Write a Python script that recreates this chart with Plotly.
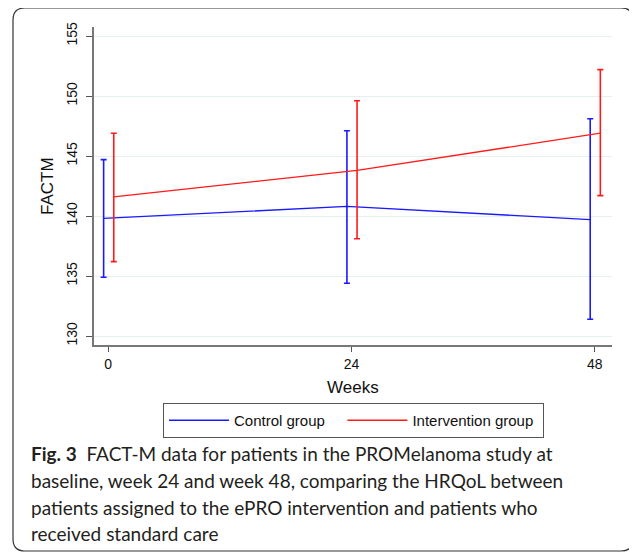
import plotly.graph_objects as go

# ---- data ----
weeks = [0, 24, 48]
week_labels = ["0", "24", "48"]
y_ticks = [130, 135, 140, 145, 150, 155]
series_names = ["Control group", "Intervention group"]

control_mean = [139.8, 140.8, 139.7]
control_upper = [144.7, 147.1, 148.1]
control_lower = [134.9, 134.4, 131.4]

intervention_mean = [141.6, 143.8, 146.9]
intervention_upper = [146.9, 149.6, 152.2]
intervention_lower = [136.2, 138.1, 141.7]

caption_lines = [
    "<b>Fig. 3</b>  FACT-M data for patients in the PROMelanoma study at",
    "baseline, week 24 and week 48, comparing the HRQoL between",
    "patients assigned to the ePRO intervention and patients who",
    "received standard care",
]

# ---- layout geometry (pixels in the page; the page body adds an 8px margin) ----
OFF = 8
W, H = 637 - OFF, 553 - OFF
PL, PR, PT, PB = 94, 612, 27, 345  # plot area in page pixels


def fx(px):
    return (px - PL) / (PR - PL)


def fy(py):
    return (PB - py) / (PB - PT)


BLUE = "#1a1aff"
RED = "#ff1a1a"
AXIS_FONT = "Liberation Sans, Arial, sans-serif"
CAP_FONT = "Lato, Open Sans, sans-serif"
NB = "\u00a0"

fig = go.Figure()


def add_series(name, mean, upper, lower, color, offset, pad):
    xs = [w + offset for w in weeks]
    fig.add_trace(go.Scatter(
        x=xs, y=mean, name=name + NB * pad, mode="lines",
        line=dict(color=color, width=1.3),
        error_y=dict(
            type="data", symmetric=False,
            array=[u - m for u, m in zip(upper, mean)],
            arrayminus=[m - l for m, l in zip(mean, lower)],
            color=color, thickness=1.6, width=3,
        ),
    ))


add_series(series_names[0], control_mean, control_upper, control_lower, BLUE, -0.45, 3)
add_series(series_names[1], intervention_mean, intervention_upper, intervention_lower, RED, 0.55, 1)

fig.update_xaxes(
    range=[-1.4, 49.7], tickvals=weeks, ticktext=week_labels,
    showgrid=False, zeroline=False, automargin=False,
    showline=True, linecolor="#777777", linewidth=2,
    ticks="outside", ticklen=5, tickcolor="#555555", tickwidth=1,
    tickfont=dict(family=AXIS_FONT, size=14, color="#111111"),
)
fig.update_yaxes(
    range=[129.25, 155.75], tickvals=y_ticks,
    showgrid=True, gridcolor="#e6eef0", gridwidth=1.2, zeroline=False,
    automargin=False,
    showline=True, linecolor="#777777", linewidth=2,
    ticks="outside", ticklen=6, tickcolor="#555555", tickwidth=1,
    tickangle=-90, ticklabelstandoff=3,
    tickfont=dict(family=AXIS_FONT, size=14, color="#111111"),
)

annotations = [
    dict(text="FACTM", x=fx(47), y=fy(186), xref="paper", yref="paper",
         showarrow=False, textangle=-90, xanchor="center", yanchor="middle",
         font=dict(family=AXIS_FONT, size=17, color="#111111")),
    dict(text="Weeks", x=fx(353), y=fy(387), xref="paper", yref="paper",
         showarrow=False, xanchor="center", yanchor="middle",
         font=dict(family=AXIS_FONT, size=17, color="#111111")),
]
cap_y = [453, 480, 507, 533]
for line, py in zip(caption_lines, cap_y):
    annotations.append(dict(
        text=line, x=fx(29), y=fy(py), xref="paper", yref="paper",
        showarrow=False, xanchor="left", yanchor="middle", align="left",
        font=dict(family=CAP_FONT, size=19, color="#231f20")))

# rounded frame around figure + caption
x0, y0, x1, y1, r = 13, 8, 633, 551, 12
path = (
    f"M {fx(x0 + r)},{fy(y0)} L {fx(x1 - r)},{fy(y0)} "
    f"Q {fx(x1)},{fy(y0)} {fx(x1)},{fy(y0 + r)} "
    f"L {fx(x1)},{fy(y1 - r)} Q {fx(x1)},{fy(y1)} {fx(x1 - r)},{fy(y1)} "
    f"L {fx(x0 + r)},{fy(y1)} Q {fx(x0)},{fy(y1)} {fx(x0)},{fy(y1 - r)} "
    f"L {fx(x0)},{fy(y0 + r)} Q {fx(x0)},{fy(y0)} {fx(x0 + r)},{fy(y0)} Z"
)

fig.update_layout(
    width=W, height=H,
    margin=dict(l=PL - OFF, r=W - (PR - OFF), t=PT - OFF, b=H - (PB - OFF),
                autoexpand=False),
    paper_bgcolor="white", plot_bgcolor="white",
    showlegend=True,
    legend=dict(
        orientation="h", x=fx(163), y=fy(403), xanchor="left", yanchor="top",
        bordercolor="#555555", borderwidth=1, bgcolor="white",
        font=dict(family=AXIS_FONT, size=15, color="#111111"),
        itemwidth=60,
    ),
    annotations=annotations,
    shapes=[dict(type="path", path=path, xref="paper", yref="paper",
                 line=dict(color="#333333", width=1.2), layer="below")],
)

fig.write_html("out.html")
